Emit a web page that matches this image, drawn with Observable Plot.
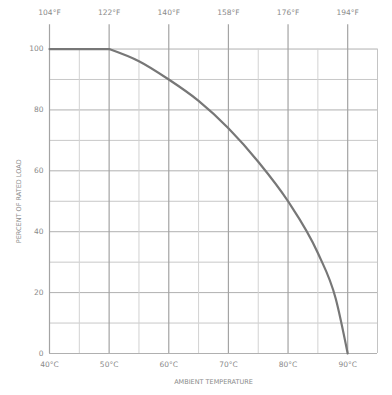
<!DOCTYPE html>
<html><head><meta charset="utf-8">
<script src="https://cdn.jsdelivr.net/npm/d3@7"></script>
<script src="https://cdn.jsdelivr.net/npm/@observablehq/plot@0.6"></script>
<style>body{margin:0;background:#fff}</style>
</head><body><div id="chart"></div>
<script>
const tempC = [50, 55, 60, 65, 70, 75, 80, 85, 88, 90];
const load = [100, 96, 90, 83, 74, 63, 50, 33, 18, 0];
const flatC = [40, 50];
const flatLoad = [100, 100];
const majorC = [40, 50, 60, 70, 80, 90];
const minorC = [45, 55, 65, 75, 85];
const bottomLabels = ["40°C", "50°C", "60°C", "70°C", "80°C", "90°C"];
const topLabels = ["104°F", "122°F", "140°F", "158°F", "176°F", "194°F"];
const yTicks = [0, 20, 40, 60, 80, 100];
const yMinor = [10, 30, 50, 70, 90];

const flat = flatC.map((t, i) => ({t, v: flatLoad[i]}));
const derate = tempC.map((t, i) => ({t, v: load[i]}));

const plot = Plot.plot({
  width: 392, height: 395,
  marginLeft: 49, marginRight: 15, marginTop: 12, marginBottom: 42,
  style: {fontFamily: "DejaVu Sans", fontSize: "7px", color: "#8a8a8a", background: "#fff"},
  x: {domain: [40, 95], axis: null},
  y: {domain: [0, 112], axis: null},
  marks: [
    Plot.ruleY(yMinor, {x1: 40, x2: 95, stroke: "#c8c8c8", strokeWidth: 1}),
    Plot.ruleY(yTicks, {x1: 40, x2: 95, stroke: "#b0b0b0", strokeWidth: 1}),
    Plot.ruleX(minorC, {y1: 0, y2: 100, stroke: "#d2d2d2", strokeWidth: 1}),
    Plot.ruleX(majorC, {y1: 0, y2: 108, stroke: "#a4a4a4", strokeWidth: 1.2}),
    Plot.ruleX([95], {y1: 0, y2: 100, stroke: "#c4c4c4", strokeWidth: 1}),
    Plot.line(flat, {x: "t", y: "v", stroke: "#777", strokeWidth: 2.2}),
    Plot.line(derate, {x: "t", y: "v", stroke: "#777", strokeWidth: 2.2, curve: "monotone-x"}),
    Plot.text(yTicks, {x: 40, y: d => d, text: d => String(d), textAnchor: "end", dx: -6, fill: "#8a8a8a", fontSize: 7.5}),
    Plot.text(majorC, {x: d => d, y: 0, text: (d, i) => bottomLabels[i], dy: 11, fill: "#8a8a8a", fontSize: 7.5}),
    Plot.text(majorC, {x: d => d, y: 112, text: (d, i) => topLabels[i], fill: "#8a8a8a", fontSize: 7.5}),
    Plot.text(["AMBIENT TEMPERATURE"], {x: 67.5, y: 0, dy: 28, text: d => d, fill: "#8a8a8a", fontSize: 6.5, letterSpacing: "1px"}),
    Plot.text(["PERCENT OF RATED LOAD"], {x: 40, y: 50, dx: -31, rotate: -90, text: d => d, fill: "#8a8a8a", fontSize: 6.5, letterSpacing: "1px"})
  ]
});
document.getElementById("chart").append(plot);
</script>
</body></html>
